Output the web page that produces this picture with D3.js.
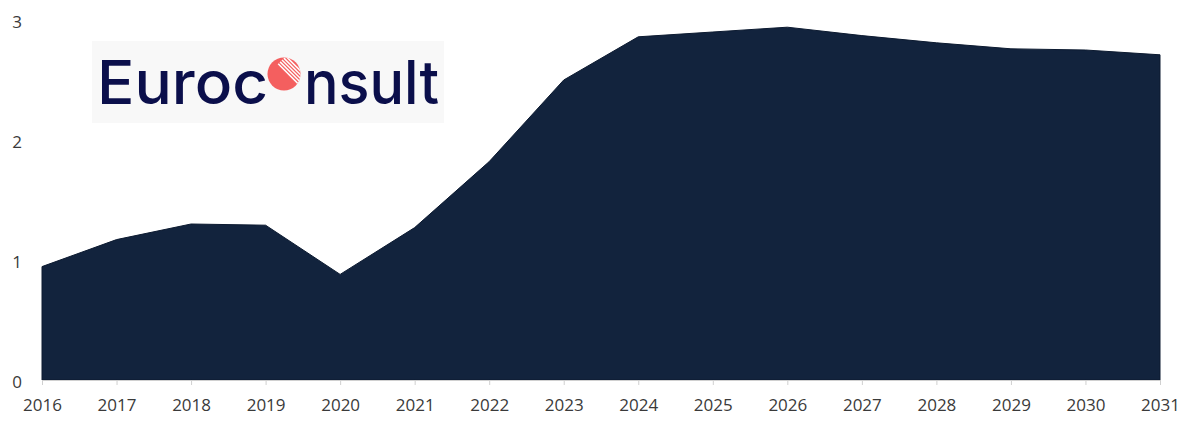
<!DOCTYPE html>
<html>
<head>
<meta charset="utf-8">
<script src="https://cdn.jsdelivr.net/npm/d3@7"></script>
<style>
  html, body { margin: 0; padding: 0; background: #ffffff; }
  svg { display: block; }
</style>
</head>
<body>
<svg id="chart" width="1203" height="431"></svg>
<script>
const years = [2016, 2017, 2018, 2019, 2020, 2021, 2022, 2023, 2024, 2025, 2026, 2027, 2028, 2029, 2030, 2031];
const values = [0.945, 1.17, 1.30, 1.29, 0.88, 1.27, 1.82, 2.50, 2.86, 2.90, 2.94, 2.87, 2.81, 2.76, 2.75, 2.71];
const yTicks = [0, 1, 2, 3];

const svg = d3.select("#chart");
const margin = { left: 42, right: 43, top: 20, bottom: 51 };
const W = 1203, H = 431;

const x = d3.scaleLinear().domain([2016, 2031]).range([margin.left, W - margin.right]);
const y = d3.scaleLinear().domain([0, 3]).range([H - margin.bottom, margin.top]);

const data = years.map((yr, i) => ({ yr, v: values[i] }));

const area = d3.area()
  .x(d => x(d.yr))
  .y0(y(0))
  .y1(d => y(d.v));

svg.append("path")
  .datum(data)
  .attr("d", area)
  .attr("fill", "#12233d")
  .attr("stroke", "#0c1a30")
  .attr("stroke-width", 1);

const labelFont = "'Open Sans', sans-serif";

// x axis
const xAxis = d3.axisBottom(x)
  .tickValues(years)
  .tickFormat(d3.format("d"))
  .tickSize(5)
  .tickPadding(14);
const gx = svg.append("g")
  .attr("transform", `translate(0,${y(0)})`)
  .call(xAxis);
gx.select(".domain").attr("stroke", "#d0d0d0");
gx.selectAll(".tick line").attr("stroke", "#d0d0d0");
gx.selectAll(".tick text")
  .attr("fill", "#3a3a3a")
  .style("font-family", labelFont)
  .style("font-size", "17px");

// y axis (labels only)
const yAxis = d3.axisLeft(y)
  .tickValues(yTicks)
  .tickFormat(d3.format("d"))
  .tickSize(0)
  .tickPadding(20);
const gy = svg.append("g")
  .attr("transform", `translate(${margin.left},0)`)
  .call(yAxis);
gy.select(".domain").remove();
gy.selectAll(".tick text")
  .attr("fill", "#3a3a3a")
  .attr("dy", "0.45em")
  .style("font-family", labelFont)
  .style("font-size", "17px");

// Logo
const logo = svg.append("g");
logo.append("rect")
  .attr("x", 92).attr("y", 41).attr("width", 352).attr("height", 82)
  .attr("fill", "#f8f8f8");

const navy = "#0b0f4b";
logo.append("text")
  .attr("x", 97).attr("y", 104)
  .attr("textLength", 171).attr("lengthAdjust", "spacingAndGlyphs")
  .attr("fill", navy)
  .style("font-family", "Inter, sans-serif")
  .style("font-weight", "500")
  .style("font-size", "60px")
  .text("Euroc");
logo.append("text")
  .attr("x", 304).attr("y", 104)
  .attr("textLength", 135).attr("lengthAdjust", "spacingAndGlyphs")
  .attr("fill", navy)
  .style("font-family", "Inter, sans-serif")
  .style("font-weight", "500")
  .style("font-size", "60px")
  .text("nsult");

const cx = 284, cy = 74, r = 16.5;
const defs = svg.append("defs");
defs.append("clipPath").attr("id", "circClip")
  .append("circle").attr("cx", cx).attr("cy", cy).attr("r", r);
logo.append("circle").attr("cx", cx).attr("cy", cy).attr("r", r).attr("fill", "#f45f5f");
const stripes = logo.append("g").attr("clip-path", "url(#circClip)");
[0, 1, 2, 3, 4].forEach(i => {
  const off = 2.2 + i * 1.9;
  const px = cx + off, py = cy - off;
  stripes.append("line")
    .attr("x1", px - 8).attr("y1", py - 8)
    .attr("x2", px + 16).attr("y2", py + 16)
    .attr("stroke", "#ffffff").attr("stroke-width", 1.5);
});
</script>
</body>
</html>
